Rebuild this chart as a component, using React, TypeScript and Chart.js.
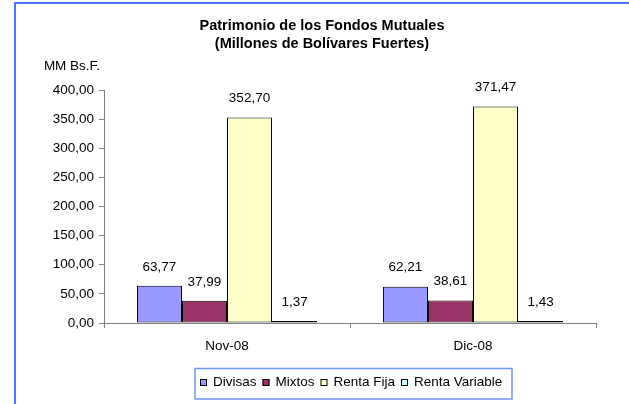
import React, { useEffect, useRef } from "react";
import { Chart, registerables } from "chart.js";

Chart.register(...registerables);

const categories = ["Nov-08", "Dic-08"];
const seriesNames = ["Divisas", "Mixtos", "Renta Fija", "Renta Variable"];
const divisas = [63.77, 62.21];
const mixtos = [37.99, 38.61];
const rentaFija = [352.7, 371.47];
const rentaVariable = [1.37, 1.43];
const seriesColors = ["#9999FF", "#993366", "#FFFFCC", "#CCFFFF"];
const titleLines = ["Patrimonio de los Fondos Mutuales", "(Millones de Bolívares Fuertes)"];
const unitLabel = "MM Bs.F.";
const yMin = 0;
const yMax = 400;
const yStep = 50;

const FONT = "'Liberation Sans', Arial, sans-serif";
const fmt = (v: number) => v.toFixed(2).replace(".", ",");

const decorPlugin = {
  id: "decor",
  afterDraw(chart: any) {
    const ctx = chart.ctx as CanvasRenderingContext2D;
    ctx.save();
    // frame
    ctx.fillStyle = "#4a78f5";
    ctx.fillRect(14, 2, chart.width - 14, 2);
    ctx.fillRect(14, 2, 2, chart.height - 2);

    // title
    ctx.fillStyle = "#000";
    ctx.font = `bold 14.5px ${FONT}`;
    ctx.textAlign = "center";
    ctx.textBaseline = "middle";
    ctx.fillText(titleLines[0], 322, 26);
    ctx.fillText(titleLines[1], 322, 44);

    // unit label
    ctx.font = `13.5px ${FONT}`;
    ctx.textAlign = "center";
    ctx.fillText(unitLabel, 72, 66);

    // data labels
    chart.data.datasets.forEach((ds: any, di: number) => {
      const meta = chart.getDatasetMeta(di);
      meta.data.forEach((bar: any, i: number) => {
        ctx.fillText(fmt(ds.data[i]), bar.x, bar.y - 19);
      });
    });

    // legend
    const boxL = 195, boxT = 368.5, boxW = 317, boxH = 30.5;
    ctx.strokeStyle = "#6f95f5";
    ctx.lineWidth = 1.5;
    ctx.strokeRect(boxL, boxT, boxW, boxH);
    let x = 200;
    const cy = 382.5;
    ctx.textAlign = "left";
    chart.data.datasets.forEach((ds: any) => {
      ctx.fillStyle = ds.backgroundColor;
      ctx.fillRect(x, cy - 3.5, 7, 7);
      ctx.strokeStyle = "#000";
      ctx.lineWidth = 1;
      ctx.strokeRect(x + 0.5, cy - 3.5 + 0.5, 6, 6);
      x += 13;
      ctx.fillStyle = "#000";
      ctx.fillText(ds.label, x, cy);
      x += ctx.measureText(ds.label).width + 6;
    });
    ctx.restore();
  },
};

export default function App() {
  const ref = useRef<HTMLCanvasElement>(null);
  useEffect(() => {
    document.body.style.margin = "0";
    const values = [divisas, mixtos, rentaFija, rentaVariable];
    const chart = new Chart(ref.current!, {
      type: "bar",
      data: {
        labels: categories,
        datasets: seriesNames.map((name, i) => ({
          label: name,
          data: values[i],
          backgroundColor: seriesColors[i],
          borderColor: "#000",
          borderWidth: 1,
          borderSkipped: false,
          minBarLength: 2,
          barPercentage: 1,
          categoryPercentage: 0.732,
        })),
      },
      options: {
        animation: false,
        responsive: false,
        layout: { padding: { left: 0, right: 33, top: 90, bottom: 0 } },
        plugins: { legend: { display: false }, title: { display: false }, tooltip: { enabled: false } },
        scales: {
          x: {
            grid: { display: true, drawOnChartArea: false, drawTicks: true, tickLength: 5, color: "#808080", offset: true },
            border: { display: true, color: "#808080", width: 1 },
            ticks: { color: "#000", font: { family: FONT, size: 13.5 }, padding: 10 },
            afterFit: (s: any) => { s.height = 81; },
          },
          y: {
            min: yMin,
            max: yMax,
            grid: { display: true, drawOnChartArea: false, drawTicks: true, tickLength: 5, color: "#808080" },
            border: { display: true, color: "#808080", width: 1 },
            ticks: {
              stepSize: yStep,
              color: "#000",
              font: { family: FONT, size: 13.5 },
              padding: 5,
              callback: (v: any) => fmt(Number(v)),
            },
            afterFit: (s: any) => { s.width = 104; },
          },
        },
      },
      plugins: [decorPlugin],
    });
    return () => chart.destroy();
  }, []);
  return <canvas ref={ref} width={629} height={404} style={{ display: "block" }} />;
}
